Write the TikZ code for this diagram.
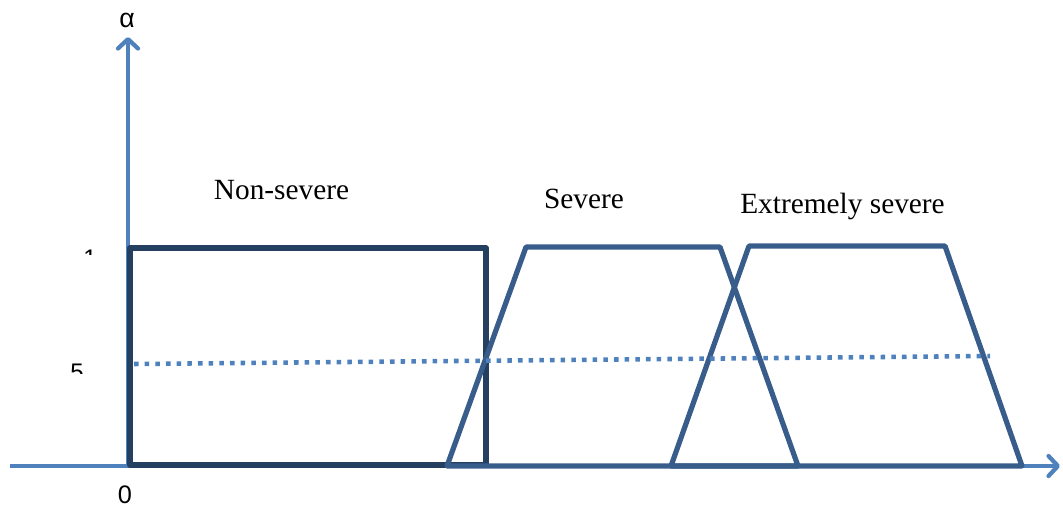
\documentclass[tikz,border=0pt]{standalone}
\usepackage{fontspec}
\setmainfont{Liberation Serif}
\newfontfamily\axisfont{Liberation Sans}
\usepackage{xcolor}
\usetikzlibrary{arrows.meta}

\definecolor{axisblue}{RGB}{79,129,189}
\definecolor{rectnavy}{RGB}{36,63,96}
\definecolor{trapblue}{RGB}{56,93,138}

\begin{document}
\begin{tikzpicture}[x=0.75pt,y=0.75pt,yscale=-1,xscale=1,
  axisline/.style={color=axisblue,line width=3.2pt,-{Straight Barb[length=7pt,width=15pt,round]}},
  setline/.style={line width=3.9pt,line join=round},
  cutline/.style={color=axisblue,line width=3.4pt,dash pattern=on 3.4pt off 4.6pt},
  classlabel/.style={inner sep=0.75pt,font=\fontsize{22}{26}\selectfont},
  ticklabel/.style={inner sep=0pt,font=\axisfont\fontsize{18}{20}\selectfont}]
\useasboundingbox (0,0) rectangle (1063,508);

%Points of the axes
\coordinate (origin) at (128,466);
\coordinate (ytip) at (128,37);
\coordinate (xstart) at (10,466);
\coordinate (xtip) at (1060,466);

%Straight Lines: axes
\draw [axisline] (origin) -- (ytip);
\draw [axisline] (xstart) -- (xtip);

%Shape: Rectangle (non-severe)
\coordinate (ns1) at (130,465);
\coordinate (ns2) at (486,248);
\draw [setline,color=rectnavy] (ns1) rectangle (ns2);

%Shape: Trapezoid (severe)
\coordinate (sv1) at (447,466);
\coordinate (sv2) at (526,247);
\coordinate (sv3) at (720,247);
\coordinate (sv4) at (798,466);
\draw [setline,color=trapblue] (sv1) -- (sv2) -- (sv3) -- (sv4) -- cycle;

%Shape: Trapezoid (extremely severe)
\coordinate (es1) at (671,466);
\coordinate (es2) at (749,246);
\coordinate (es3) at (945,246);
\coordinate (es4) at (1022,466);
\draw [setline,color=trapblue] (es1) -- (es2) -- (es3) -- (es4) -- cycle;

%Straight Lines: alpha cut
\coordinate (cutL) at (134,364);
\coordinate (cutR) at (990,356);
\draw [cutline] (cutL) -- (cutR);

% Text Node
\node [classlabel] (nonsevere) at (281.5,190) {Non-severe};
% Text Node
\node [classlabel] (severe) at (584,199) {Severe};
% Text Node
\node [classlabel] (extreme) at (842.5,206) {Extremely severe};
% Text Node
\node [ticklabel,font=\axisfont\fontsize{20}{22}\selectfont,anchor=base] (alpha) at (127,27) {α};
% Text Node
\node [ticklabel,font=\axisfont\fontsize{19}{21}\selectfont,anchor=base] (zero) at (125,503) {0};

% Text Node (cut off)
\begin{scope}
\clip (60,240) rectangle (110,254.5);
\node [ticklabel,anchor=base east] (one) at (97,266) {1};
\end{scope}
% Text Node (cut off)
\begin{scope}
\clip (50,355) rectangle (110,373.5);
\node [ticklabel,anchor=base east] (half) at (84,380) {.5};
\end{scope}

\end{tikzpicture}
\end{document}
